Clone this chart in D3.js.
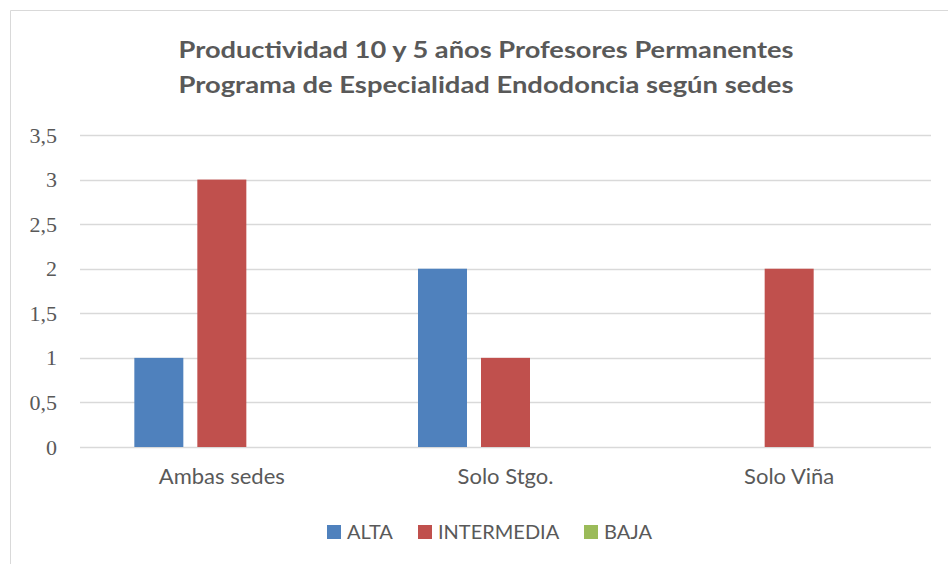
<!DOCTYPE html>
<html>
<head>
<meta charset="utf-8">
<script src="https://cdn.jsdelivr.net/npm/d3@7"></script>
<style>
body { margin: 0; background: #fff; }
</style>
</head>
<body>
<div id="chart"></div>
<script>
var categories = ["Ambas sedes", "Solo Stgo.", "Solo Viña"];
var seriesNames = ["ALTA", "INTERMEDIA", "BAJA"];
var alta = [1, 2, 0];
var intermedia = [3, 1, 2];
var baja = [0, 0, 0];
var yTicks = [0, 0.5, 1, 1.5, 2, 2.5, 3, 3.5];
var colors = ["#4F81BD", "#C0504D", "#9BBB59"];

var W = 948, H = 564;
var margin = {left: 80, right: 17, top: 135, bottom: 117};

var svg = d3.select('#chart')
	.append('svg')
	.attr('width', W)
	.attr('height', H);

// chart frame
svg.append("path")
	.attr("d", "M10.5," + H + "V10.5H" + W)
	.attr("fill", "none")
	.attr("stroke", "#d9d9d9")
	.attr("stroke-width", 1);

var x = d3.scaleBand().domain(categories).range([margin.left, W - margin.right]);
var y = d3.scaleLinear().domain([0, 3.5]).range([H - margin.bottom, margin.top]);

var inner = d3.scaleBand().domain(seriesNames)
	.range([x.bandwidth() / 2 - 87.5, x.bandwidth() / 2 + 87.5])
	.paddingInner(14 / 63);

// gridlines
svg.append("g")
	.selectAll("line")
	.data(yTicks)
	.enter().append("line")
	.attr("x1", margin.left)
	.attr("x2", W - margin.right)
	.attr("y1", function(d) { return Math.round(y(d)) + 0.5; })
	.attr("y2", function(d) { return Math.round(y(d)) + 0.5; })
	.attr("stroke", "#d9d9d9")
	.attr("stroke-width", 1.5);

// y axis labels
var yAxis = svg.append("g")
	.attr("transform", "translate(" + margin.left + ",0)")
	.call(d3.axisLeft(y).tickValues(yTicks).tickSize(0).tickPadding(23)
		.tickFormat(function(d) { return String(d).replace(".", ","); }));
yAxis.select(".domain").remove();
yAxis.selectAll("text")
	.attr("font-family", "'Liberation Serif', 'DejaVu Serif', serif")
	.attr("font-size", 22)
	.attr("fill", "#595959");

// bars
var rows = [alta, intermedia, baja];
rows.forEach(function(vals, si) {
	svg.append("g")
		.selectAll("rect")
		.data(vals)
		.enter().append("rect")
		.attr("x", function(d, i) { return x(categories[i]) + inner(seriesNames[si]); })
		.attr("y", function(d) { return y(d); })
		.attr("width", inner.bandwidth())
		.attr("height", function(d) { return y(0) - y(d); })
		.attr("fill", colors[si]);
});

// x labels
var xAxis = svg.append("g")
	.attr("transform", "translate(0," + y(0) + ")")
	.call(d3.axisBottom(x).tickSize(0).tickPadding(21));
xAxis.select(".domain").remove();
xAxis.selectAll("text")
	.attr("font-family", "Lato, 'Open Sans', sans-serif")
	.attr("font-size", 22)
	.attr("fill", "#595959");

// title
var title = ["Productividad 10 y 5 años Profesores Permanentes",
	"Programa de Especialidad Endodoncia según sedes"];
svg.append("g").selectAll("text")
	.data(title)
	.enter().append("text")
	.attr("x", 486)
	.attr("y", function(d, i) { return 58 + i * 35; })
	.attr("text-anchor", "middle")
	.attr("font-family", "Lato, 'Open Sans', sans-serif")
	.attr("font-weight", "bold")
	.attr("font-size", 23)
	.attr("fill", "#595959")
	.attr("textLength", 615)
	.attr("lengthAdjust", "spacingAndGlyphs")
	.text(function(d) { return d; });

// legend
var legendX = [327, 418, 584];
var legend = svg.append("g").selectAll("g")
	.data(seriesNames)
	.enter().append("g")
	.attr("transform", function(d, i) { return "translate(" + legendX[i] + ",525)"; });
legend.append("rect")
	.attr("width", 14)
	.attr("height", 14)
	.attr("fill", function(d, i) { return colors[i]; });
legend.append("text")
	.attr("x", 20)
	.attr("y", 13.5)
	.attr("font-family", "Lato, 'Open Sans', sans-serif")
	.attr("font-size", 20)
	.attr("fill", "#595959")
	.text(function(d) { return d; });
</script>
</body>
</html>
